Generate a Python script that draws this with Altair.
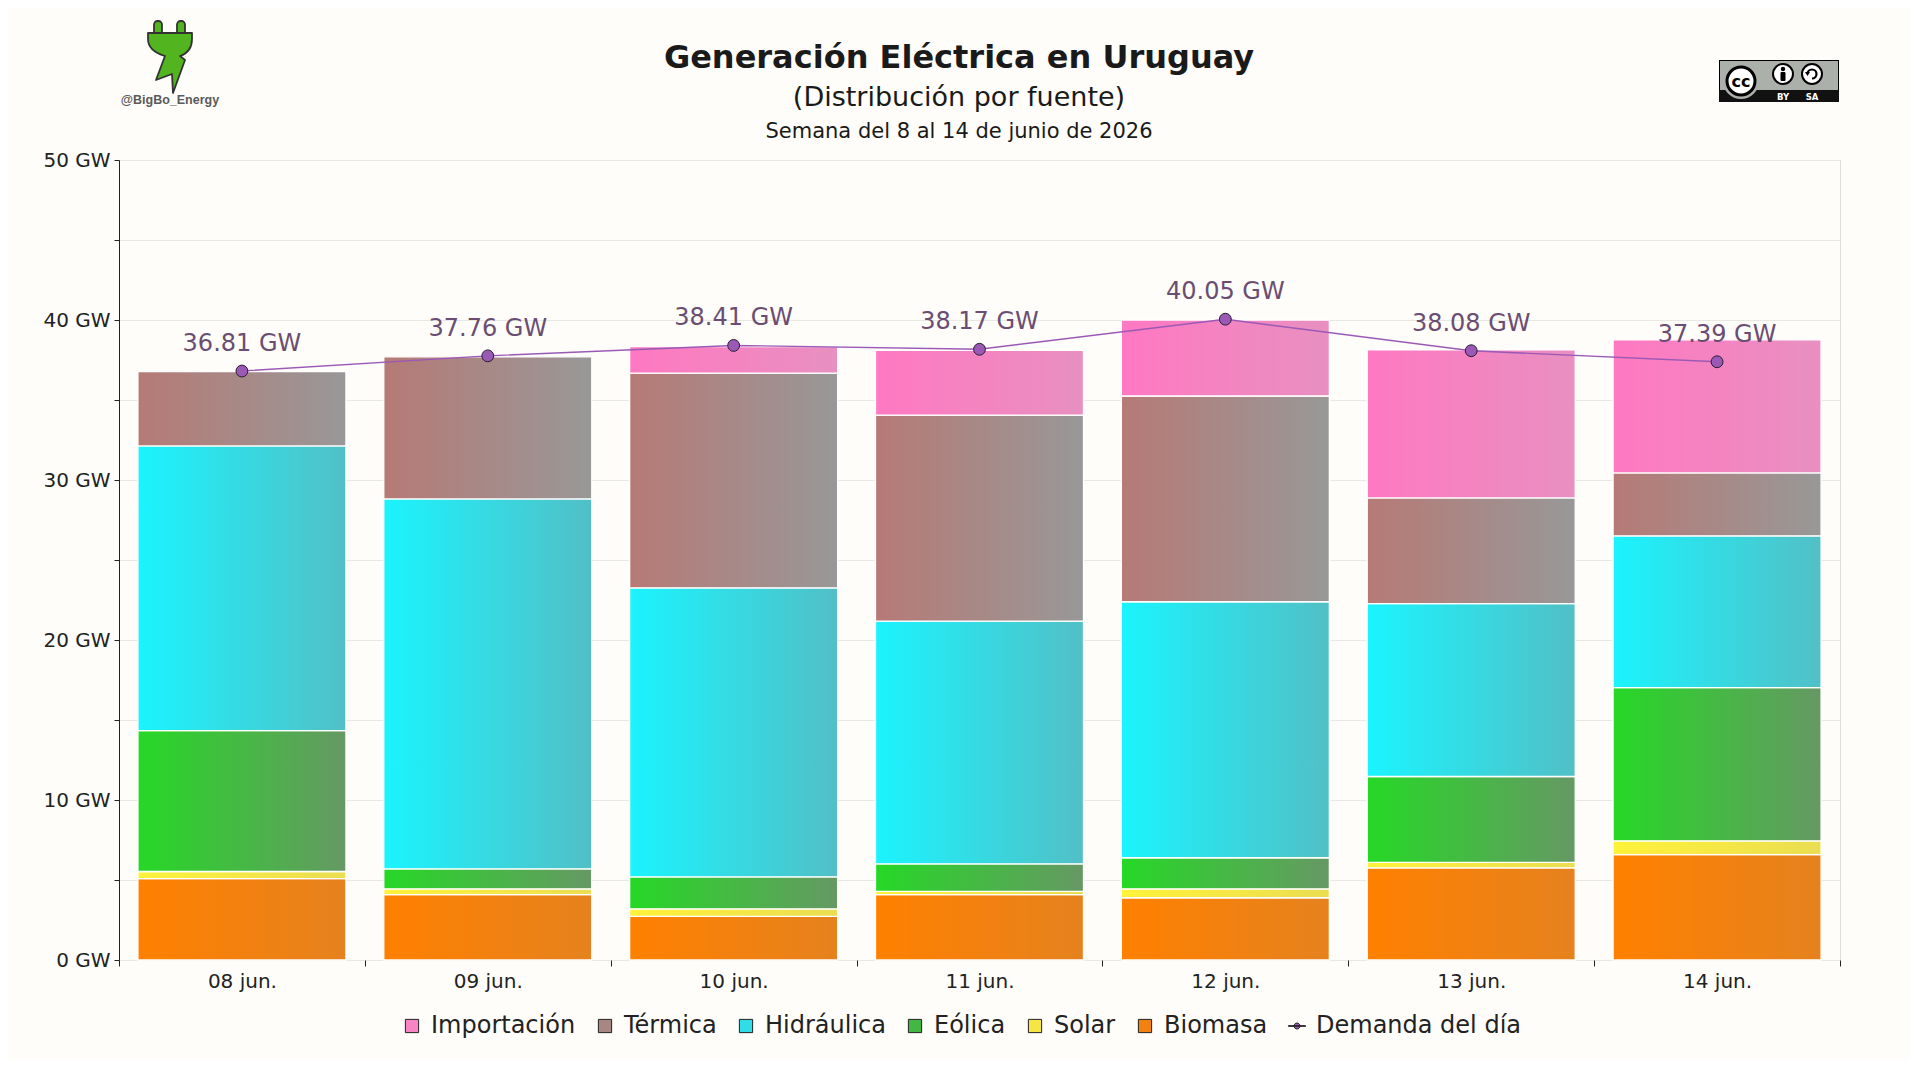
import base64
import altair as alt
import pandas as pd

# ---------------- data ----------------
dias = ["08 jun.", "09 jun.", "10 jun.", "11 jun.", "12 jun.", "13 jun.", "14 jun."]
fuentes = ["Biomasa", "Solar", "Eólica", "Hidráulica", "Térmica", "Importación"]  # bottom -> top
biomasa = [5.08, 4.08, 2.73, 4.08, 3.89, 5.76, 6.58]
solar = [0.45, 0.37, 0.47, 0.21, 0.56, 0.34, 0.87]
eolica = [8.81, 1.25, 2.00, 1.72, 1.94, 5.37, 9.57]
hidraulica = [17.79, 23.12, 18.06, 15.17, 16.00, 10.80, 9.49]
termica = [4.64, 8.88, 13.42, 12.88, 12.86, 6.61, 3.93]
importacion = [0.0, 0.0, 1.65, 4.04, 4.75, 9.26, 8.32]
demanda = [36.81, 37.76, 38.41, 38.17, 40.05, 38.08, 37.39]

legend_order = ["Importación", "Térmica", "Hidráulica", "Eólica", "Solar", "Biomasa", "Demanda del día"]

titulo = ["Generación Eléctrica en Uruguay"]
subtitulo = ["(Distribución por fuente)"]
semana = ["Semana del 8 al 14 de junio de 2026"]
firma = ["@BigBo_Energy"]

# ---------------- styles ----------------
grad_colors = {
    "Biomasa": ("#ff8000", "#e5821e"),
    "Solar": ("#fff23a", "#eadd52"),
    "Eólica": ("#26d826", "#669864"),
    "Hidráulica": ("#1af4fe", "#52bfc6"),
    "Térmica": ("#b67a76", "#989898"),
    "Importación": ("#ff78c2", "#e890c0"),
}
legend_colors = ["#f785c3", "#a88684", "#30dde6", "#43b643", "#f5e646", "#f2820f", "#9b59b6"]
demand_path = ("M-1.3,-0.05L1.3,-0.05L1.3,0.05L-1.3,0.05Z "
               "M0.45,0A0.45,0.45,0,1,1,-0.45,0A0.45,0.45,0,1,1,0.45,0Z")
legend_shapes = ["square"] * 6 + [demand_path]

FONT = "DejaVu Sans"
W, H = 1721, 800

series = {"Biomasa": biomasa, "Solar": solar, "Eólica": eolica,
          "Hidráulica": hidraulica, "Térmica": termica, "Importación": importacion}

rows = []
for i, d in enumerate(dias):
    for j, f in enumerate(fuentes):
        rows.append({"dia": d, "fuente": f, "orden": j, "valor": series[f][i]})
gen = pd.DataFrame(rows)
dem = pd.DataFrame({"dia": dias, "demanda": demanda})

x_enc = alt.X("dia:N", sort=dias,
              scale=alt.Scale(paddingInner=0, paddingOuter=0),
              axis=alt.Axis(title=None, labelAngle=0, labelFontSize=20, labelColor="#222",
                            labelFont=FONT, domain=False, tickBand="extent", tickSize=6,
                            tickColor="#222", labelPadding=5, grid=False))
y_scale = alt.Scale(domain=[0, 50], nice=False)
y_axis = alt.Axis(title=None, values=list(range(0, 51, 5)),
                  labelExpr="datum.value % 10 == 0 ? datum.value + ' GW' : ''",
                  labelFontSize=20, labelColor="#222", labelFont=FONT,
                  domainColor="#222", tickColor="#222", tickSize=5,
                  gridColor="#e9e8e2", gridWidth=1, labelPadding=4)

base = alt.Chart(gen).transform_stack(
    stack="valor", as_=["y0", "y1"], groupby=["dia"],
    sort=[alt.SortField("orden", order="ascending")])

bar_layers = []
for f in fuentes:
    c0, c1 = grad_colors[f]
    grad = alt.Gradient(gradient="linear", x1=0, x2=1, y1=0, y2=0,
                        stops=[alt.GradientStop(color=c0, offset=0),
                               alt.GradientStop(color=c1, offset=1)])
    layer = base.transform_filter(
        (alt.datum.fuente == f) & (alt.datum.valor > 0)
    ).mark_bar(fill=grad, stroke="white", strokeWidth=1.3,
               width=alt.RelativeBandSize(0.846)).encode(
        x=x_enc,
        y=alt.Y("y0:Q", scale=y_scale, axis=y_axis),
        y2="y1:Q",
    )
    bar_layers.append(layer)

dem_base = alt.Chart(dem).encode(
    x=x_enc, y=alt.Y("demanda:Q", scale=y_scale, axis=y_axis))
dem_line = dem_base.mark_line(color="#9b59b6", strokeWidth=1.4)
dem_pts = dem_base.mark_point(filled=True, fill="#9b59b6", stroke="#2b1d30",
                              strokeWidth=1, size=140, opacity=1)
dem_txt = dem_base.transform_calculate(
    etiqueta="format(datum.demanda, '.2f') + ' GW'"
).mark_text(font=FONT, fontSize=24, color="#6b4d72", baseline="alphabetic", dy=-20).encode(
    text="etiqueta:N")

# legend-only layer
leg_df = pd.DataFrame({"serie": legend_order})
leg = alt.Legend(title=None, orient="none", legendX=281, legendY=854, direction="horizontal",
                 columns=7, labelFontSize=24, labelFont=FONT, labelColor="#222", labelLimit=0,
                 symbolSize=175, symbolStrokeWidth=1, symbolOpacity=1,
                 columnPadding=17, labelOffset=7)
legend_layer = alt.Chart(leg_df).mark_point(filled=True).encode(
    x=alt.value(0), y=alt.value(0),
    fill=alt.Fill("serie:N", sort=legend_order,
                  scale=alt.Scale(domain=legend_order, range=legend_colors), legend=leg),
    shape=alt.Shape("serie:N", sort=legend_order,
                    scale=alt.Scale(domain=legend_order, range=legend_shapes), legend=leg),
    stroke=alt.value("#222"),
    strokeWidth=alt.value(1),
    opacity=alt.value(0),
)

# titles
t1 = alt.Chart(pd.DataFrame({"t": titulo})).mark_text(
    font=FONT, fontSize=32, fontWeight="bold", color="#1a1a1a", baseline="alphabetic", align="center"
).encode(text="t:N", x=alt.value(840), y=alt.value(-92))
t2 = alt.Chart(pd.DataFrame({"t": subtitulo})).mark_text(
    font=FONT, fontSize=27, color="#1a1a1a", baseline="alphabetic", align="center"
).encode(text="t:N", x=alt.value(840), y=alt.value(-54))
t3 = alt.Chart(pd.DataFrame({"t": semana})).mark_text(
    font=FONT, fontSize=21, color="#1a1a1a", baseline="alphabetic", align="center"
).encode(text="t:N", x=alt.value(840), y=alt.value(-22))
t4 = alt.Chart(pd.DataFrame({"t": firma})).mark_text(
    font="Liberation Sans", fontSize=12.5, fontWeight="bold", color="#5a5a5a",
    baseline="alphabetic", align="center"
).encode(text="t:N", x=alt.value(51), y=alt.value(-56))

# logos as inline svg images
plug_svg = """<svg xmlns="http://www.w3.org/2000/svg" width="46" height="74" viewBox="0 0 46 74">
<g fill="#52b41e" stroke="#333" stroke-width="1.8" stroke-linejoin="round">
<rect x="7" y="1" width="8" height="16" rx="3.5"/>
<rect x="30" y="1" width="8" height="16" rx="3.5"/>
<path d="M1,13 H45 V19 C45,29 39,34 33,36 L38,40 L26,73 L25,54 L9,60 L18,36 C8,33 1,28 1,19 Z"/>
</g></svg>"""
cc_svg = """<svg xmlns="http://www.w3.org/2000/svg" width="120" height="42" viewBox="0 0 120 42">
<rect x="0.5" y="0.5" width="119" height="41" fill="#abb1aa" stroke="#000"/>
<rect x="0" y="30" width="120" height="12" fill="#111"/>
<circle cx="22" cy="21" r="18" fill="#abb1aa"/>
<circle cx="22" cy="21" r="14" fill="#fff" stroke="#000" stroke-width="3"/>
<text x="22" y="27" font-family="DejaVu Sans" font-weight="bold" font-size="16" text-anchor="middle">cc</text>
<circle cx="64" cy="14" r="10" fill="#fff" stroke="#000" stroke-width="2"/>
<circle cx="64" cy="9" r="2.2" fill="#000"/>
<rect x="61.5" y="12" width="5" height="9" rx="1" fill="#000"/>
<circle cx="93" cy="14" r="10" fill="#fff" stroke="#000" stroke-width="2"/>
<path d="M88.5,14 A4.5,4.5 0 1 1 93,18.5" fill="none" stroke="#000" stroke-width="2.2"/>
<path d="M86,12 L88.5,16 L91,12 Z" fill="#000"/>
<text x="64" y="40" fill="#fff" font-family="DejaVu Sans" font-weight="bold" font-size="8.5" text-anchor="middle">BY</text>
<text x="93" y="40" fill="#fff" font-family="DejaVu Sans" font-weight="bold" font-size="8.5" text-anchor="middle">SA</text>
</svg>"""


def uri(svg):
    return "data:image/svg+xml;base64," + base64.b64encode(svg.encode("utf-8")).decode("ascii")


plug_img = alt.Chart(pd.DataFrame({"u": [uri(plug_svg)]})).mark_image(
    width=46, height=74, align="left", baseline="top", aspect=False
).encode(url="u:N", x=alt.value(28), y=alt.value(-140))
cc_img = alt.Chart(pd.DataFrame({"u": [uri(cc_svg)]})).mark_image(
    width=120, height=42, align="left", baseline="top", aspect=False
).encode(url="u:N", x=alt.value(1600), y=alt.value(-100))

chart = alt.layer(
    *bar_layers, dem_line, dem_pts, dem_txt, legend_layer, t1, t2, t3, t4, plug_img, cc_img
).properties(
    width=W, height=H,
    autosize=alt.AutoSizeParams(type="none"),
    padding={"left": 111, "top": 152, "right": 70, "bottom": 100},
    background="#fefdf9",
).configure_view(fill="white", stroke=None).configure(font=FONT)

chart.save("out.html", embed_options={"renderer": "svg", "actions": False})
